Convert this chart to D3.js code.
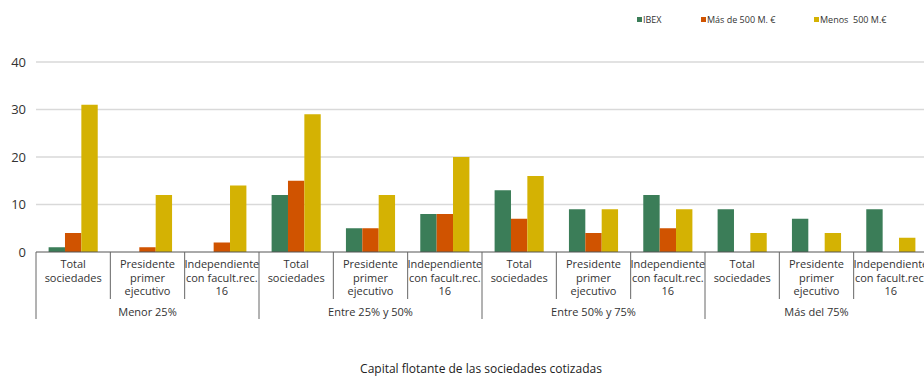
<!DOCTYPE html>
<html>
<head>
<meta charset="utf-8">
<script src="https://cdn.jsdelivr.net/npm/d3@7"></script>
<style>
  body { margin: 0; background: #fff; }
  svg { display: block; font-family: "Open Sans", "Noto Sans", sans-serif; }
</style>
</head>
<body>
<svg id="chart" width="924" height="376"></svg>
<script>
// Free-float groups and board sub-categories
const groups = ["Menor 25%", "Entre 25% y 50%", "Entre 50% y 75%", "Más del 75%"];
const subcats = [
  ["Total", "sociedades"],
  ["Presidente", "primer", "ejecutivo"],
  ["Independiente", "con facult.rec.", "16"]
];
const seriesNames = ["IBEX", "Más de 500 M. €", "Menos  500 M.€"];
const seriesColors = ["#3b7d58", "#d05300", "#d4b203"];

// Values per series, ordered group by group, sub-category by sub-category
const ibex      = [1, 0, 0,  12, 5, 8,   13, 9, 12,  9, 7, 9];
const mas500    = [4, 1, 2,  15, 5, 8,   7, 4, 5,    0, 0, 0];
const menos500  = [31, 12, 14, 29, 12, 20, 16, 9, 9,  4, 4, 3];
const yTicks = [0, 10, 20, 30, 40];

const series = [ibex, mas500, menos500];
const svg = d3.select("#chart");

const x0 = 36, x1 = 928, yTop = 62, yBase = 252;
const cells = groups.flatMap((g, gi) => subcats.map((s, si) => ({ g, gi, s, si, key: gi * 3 + si })));

const x = d3.scaleBand().domain(cells.map(d => d.key)).range([x0, x1]).paddingInner(0).paddingOuter(0);
const xs = d3.scaleBand().domain([0, 1, 2]).range([0, x.bandwidth()]).paddingOuter(0.77).paddingInner(0);
const y = d3.scaleLinear().domain([0, 40]).range([yBase, yTop]);

// Horizontal gridlines
svg.append("g").selectAll("line").data(yTicks.filter(t => t > 0)).join("line")
  .attr("x1", x0).attr("x2", x1)
  .attr("y1", d => y(d)).attr("y2", d => y(d))
  .attr("stroke", "#d9d9d9").attr("stroke-width", 1.5);

// Y axis labels
svg.append("g").selectAll("text").data(yTicks).join("text")
  .attr("x", 26).attr("y", d => y(d) + 4.5)
  .attr("text-anchor", "end").attr("font-size", 13).attr("fill", "#333")
  .text(d => d);

// Bars
const barG = svg.append("g");
cells.forEach(c => {
  series.forEach((vals, si) => {
    const v = vals[c.key];
    if (v <= 0) return;
    barG.append("rect")
      .attr("x", x(c.key) + xs(si))
      .attr("y", y(v))
      .attr("width", xs.bandwidth())
      .attr("height", y(0) - y(v))
      .attr("fill", seriesColors[si]);
  });
});

// Baseline
svg.append("line").attr("x1", x0).attr("x2", x1).attr("y1", yBase).attr("y2", yBase)
  .attr("stroke", "#555").attr("stroke-width", 1);

// Category separators: short between sub-categories, long between groups
const sep = svg.append("g");
d3.range(0, cells.length + 1).forEach(i => {
  const xp = i < cells.length ? x(i) : x1;
  const long = i % 3 === 0;
  sep.append("line")
    .attr("x1", xp).attr("x2", xp)
    .attr("y1", yBase).attr("y2", long ? 319 : 299)
    .attr("stroke", "#666").attr("stroke-width", 1);
});

// Sub-category labels
const lab = svg.append("g").attr("font-size", 11).attr("fill", "#333").attr("text-anchor", "middle");
cells.forEach(c => {
  const cx = x(c.key) + x.bandwidth() / 2;
  c.s.forEach((line, li) => {
    lab.append("text").attr("x", cx).attr("y", 268 + li * 13.5).text(line);
  });
});

// Group labels
svg.append("g").selectAll("text").data(groups).join("text")
  .attr("x", (d, i) => (x(i * 3) + (i * 3 + 3 < cells.length ? x(i * 3 + 3) : x1)) / 2)
  .attr("y", 316).attr("text-anchor", "middle").attr("font-size", 11).attr("fill", "#333")
  .text(d => d);

// Axis title
svg.append("text").attr("x", 481).attr("y", 373).attr("text-anchor", "middle")
  .attr("font-size", 12).attr("fill", "#222")
  .text("Capital flotante de las sociedades cotizadas");

// Legend
const legendX = [637, 701, 814];
const lg = svg.append("g");
seriesNames.forEach((n, i) => {
  lg.append("rect").attr("x", legendX[i]).attr("y", 17).attr("width", 5).attr("height", 5).attr("fill", seriesColors[i]);
  lg.append("text").attr("x", legendX[i] + 6).attr("y", 22.5).attr("font-size", 9).attr("fill", "#333")
    .style("white-space", "pre").text(n);
});
</script>
</body>
</html>
